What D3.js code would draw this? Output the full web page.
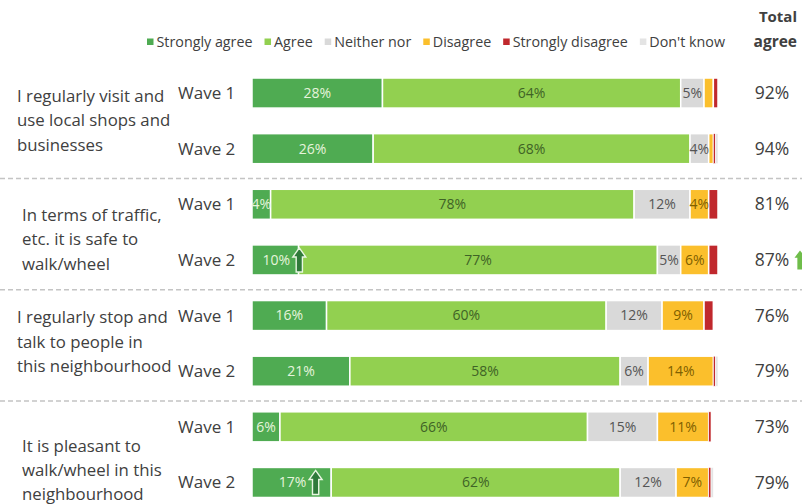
<!DOCTYPE html>
<html>
<head>
<meta charset="utf-8">
<script src="https://cdn.jsdelivr.net/npm/d3@7"></script>
<style>
  body { margin: 0; background: #fff; }
  svg { display: block; font-family: "Open Sans", Lato, sans-serif; }
</style>
</head>
<body>
<div id="chart"></div>
<script>
// statements (each spans two waves)
const statements = [
    ["I regularly visit and", "use local shops and", "businesses"],
    ["In terms of traffic,", "etc. it is safe to", "walk/wheel"],
    ["I regularly stop and", "talk to people in", "this neighbourhood"],
    ["It is pleasant to", "walk/wheel in this", "neighbourhood"]
];
const waves = ["Wave 1", "Wave 2"];
const seriesNames = ["Strongly agree", "Agree", "Neither nor", "Disagree", "Strongly disagree", "Don't know"];

// one value per bar, in order S1W1, S1W2, S2W1, ...
const stronglyAgree    = [28, 26, 4, 10, 16, 21, 6, 17];
const agree            = [64, 68, 78, 77, 60, 58, 66, 62];
const neitherNor       = [5, 4, 12, 5, 12, 6, 15, 12];
const disagree         = [2, 1, 4, 6, 9, 14, 11, 7];
const stronglyDisagree = [1, 0.5, 2, 2, 2, 0.5, 0.5, 0.5];
const dontKnow         = [0, 0.5, 0, 0, 0, 0.5, 0, 0.5];
const totalAgree       = [92, 94, 81, 87, 76, 79, 73, 79];
// bars with a significant increase marker
const upStrongly = [3, 7];
const upTotal = [3];

const colors = ["#4fab52", "#92d050", "#d9d9d9", "#fbbf2c", "#c0282d", "#e4e4e4"];
const labelColors = ["#e6f4dc", "#3f6326", "#555555", "#7f6000", "#fff", "#555"];

const width = 802, height = 504;
const svg = d3.select('#chart').append('svg')
    .attr('width', width)
    .attr('height', height);

const series = [stronglyAgree, agree, neitherNor, disagree, stronglyDisagree, dontKnow];
const rows = d3.range(stronglyAgree.length).map(i => {
    let x0 = 0;
    return series.map((s, k) => {
        const seg = { row: i, key: k, x0: x0, x1: x0 + s[i], value: s[i] };
        x0 += s[i];
        return seg;
    });
});

const x = d3.scaleLinear().domain([0, 100]).range([252, 718]);
const y = d3.scaleBand()
    .domain(d3.range(8))
    .range([63, 512.5])
    .paddingInner(0.46)
    .paddingOuter(0.27);
const bh = y.bandwidth();

// group separators
[1, 2, 3].forEach(g => {
    const yy = (y(g * 2 - 1) + bh + y(g * 2)) / 2 + 2;
    svg.append('line')
        .attr('x1', 0).attr('x2', width)
        .attr('y1', yy).attr('y2', yy)
        .attr('stroke', '#c4c4c4')
        .attr('stroke-width', 1.3)
        .attr('stroke-dasharray', '5,3');
});

// bars
const barG = svg.append('g');
rows.forEach(segs => {
    barG.selectAll(null)
        .data(segs.filter(d => d.value > 0))
        .enter()
        .append('rect')
        .attr('x', d => x(d.x0))
        .attr('y', d => y(d.row))
        .attr('width', d => x(d.x1) - x(d.x0))
        .attr('height', bh)
        .attr('fill', d => colors[d.key])
        .attr('stroke', '#fff')
        .attr('stroke-width', d => d.value < 1 ? 0.6 : 1.5);

    barG.selectAll(null)
        .data(segs.filter(d => d.value >= 4))
        .enter()
        .append('text')
        .attr('x', d => {
            const c = (x(d.x0) + x(d.x1)) / 2;
            return (d.key === 0 && upStrongly.includes(d.row)) ? c + 1 : c;
        })
        .attr('y', d => y(d.row) + bh / 2)
        .attr('dy', '0.35em')
        .attr('text-anchor', 'middle')
        .attr('font-size', '14px')
        .attr('fill', d => labelColors[d.key])
        .text(d => d.value + '%');
});

// block arrow pointing up, centred at (cx, cy)
function upArrow(cx, cy, w, h) {
    const top = cy - h / 2, bot = cy + h / 2, neck = top + h * 0.38, sw = w * 0.24;
    return `M${cx},${top} L${cx + w / 2},${neck} L${cx + sw},${neck} L${cx + sw},${bot} ` +
        `L${cx - sw},${bot} L${cx - sw},${neck} L${cx - w / 2},${neck} Z`;
}

upStrongly.forEach(i => {
    const c = (x(0) + x(stronglyAgree[i])) / 2 + 1;
    svg.append('path')
        .attr('d', upArrow(c + 23, y(i) + bh / 2, 13, bh - 6))
        .attr('fill', '#2f7a3a')
        .attr('stroke', '#e9f6e2')
        .attr('stroke-width', 1.4);
});

// wave labels
svg.append('g').selectAll('text')
    .data(d3.range(8))
    .enter()
    .append('text')
    .attr('x', 178)
    .attr('y', d => y(d) + bh / 2)
    .attr('dy', '0.35em')
    .attr('font-size', '17px')
    .attr('fill', '#404040')
    .text(d => waves[d % 2]);

// statement labels (vertical offset of first line from Wave 1 centre)
const firstLine = [3, 11, 2, 19];
const leftPad = [17, 22, 17, 22];
statements.forEach((lines, g) => {
    const y0 = y(g * 2) + bh / 2 + firstLine[g];
    svg.append('g').selectAll('text')
        .data(lines)
        .enter()
        .append('text')
        .attr('x', leftPad[g])
        .attr('y', (d, j) => y0 + j * 24.3)
        .attr('dy', '0.35em')
        .attr('font-size', '16.8px')
        .attr('fill', '#404040')
        .text(d => d);
});

// total agree column
svg.append('g').selectAll('text')
    .data(totalAgree)
    .enter()
    .append('text')
    .attr('x', 772)
    .attr('y', (d, i) => y(i) + bh / 2)
    .attr('dy', '0.35em')
    .attr('text-anchor', 'middle')
    .attr('font-size', '17.5px')
    .attr('fill', '#404040')
    .text(d => d + '%');

upTotal.forEach(i => {
    svg.append('path')
        .attr('d', upArrow(800, y(i) + bh / 2, 11, 19))
        .attr('fill', '#6fbd4a');
});

svg.append('text')
    .attr('x', 797).attr('y', 17)
    .attr('dy', '0.35em')
    .attr('text-anchor', 'end')
    .attr('font-size', '15px')
    .attr('font-weight', 'bold')
    .attr('fill', '#404040')
    .text('Total');

// legend
const legend = svg.append('g').attr('transform', 'translate(0, 42)');
let lx = 147;
seriesNames.forEach((name, k) => {
    legend.append('rect')
        .attr('x', lx).attr('y', -3.5)
        .attr('width', 6.5).attr('height', 6.5)
        .attr('fill', colors[k]);
    const t = legend.append('text')
        .attr('x', lx + 9.5)
        .attr('dy', '0.35em')
        .attr('font-size', '14.3px')
        .attr('fill', '#404040')
        .text(name);
    lx += 9.5 + t.node().getComputedTextLength() + 12;
});
legend.append('text')
    .attr('x', 797)
    .attr('dy', '0.35em')
    .attr('text-anchor', 'end')
    .attr('font-size', '15.5px')
    .attr('font-weight', 'bold')
    .attr('fill', '#404040')
    .text('agree');
</script>
</body>
</html>
